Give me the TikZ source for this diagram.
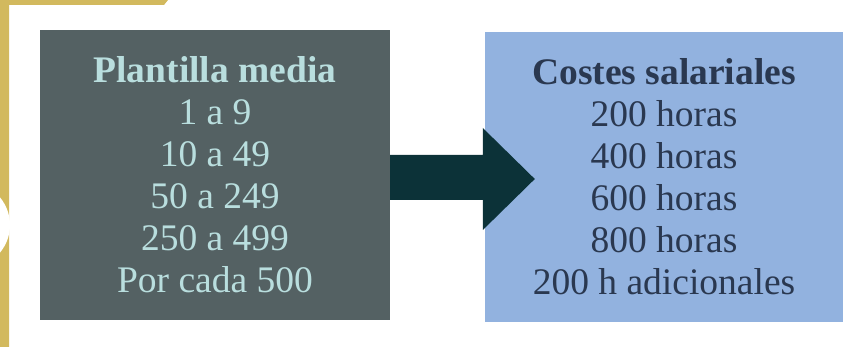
\documentclass[tikz,border=0pt]{standalone}
\usepackage{fontspec}
\setmainfont{Liberation Serif}
\usetikzlibrary{calc}
\definecolor{oro}{HTML}{D2B95E}
\definecolor{pizarra}{HTML}{546163}
\definecolor{celeste}{HTML}{B9DEDE}
\definecolor{azul}{HTML}{92B2DF}
\definecolor{tinta}{HTML}{2A3850}
\definecolor{petroleo}{HTML}{0C3238}

\begin{document}
\begin{tikzpicture}[x=1pt,y=-1pt,
  caja/.style={inner sep=0pt,align=center,minimum height=290,
    font=\fontsize{37.5}{42}\selectfont}]
\useasboundingbox (0,0) rectangle (846,347);
% marco dorado
\fill[oro](0,0)--(168,0)--(164,5)--(9,5)--(9,347)--(0,347)--cycle;
\fill[white](-33,225) circle (43);
%
\node[caja,fill=pizarra,text=celeste,minimum width=350](plantilla) at (215,175)
  {\textbf{Plantilla media}\\1 a 9\\10 a 49\\50 a 249\\250 a 499\\Por cada 500};
\node[caja,fill=azul,text=tinta,minimum width=358](costes) at (664,177)
  {\textbf{Costes salariales}\\200 horas\\400 horas\\600 horas\\800 horas\\200 h adicionales};
%
\fill[petroleo]($(plantilla.east)+(0,-20)$)--($(costes.west)+(-2,-22)$)
  --($(costes.west)+(-2,-49)$)--($(costes.west)+(50,2)$)
  --($(costes.west)+(-2,53)$)--($(costes.west)+(-2,23)$)
  --($(plantilla.east)+(0,25)$)--cycle;
\end{tikzpicture}
\end{document}
